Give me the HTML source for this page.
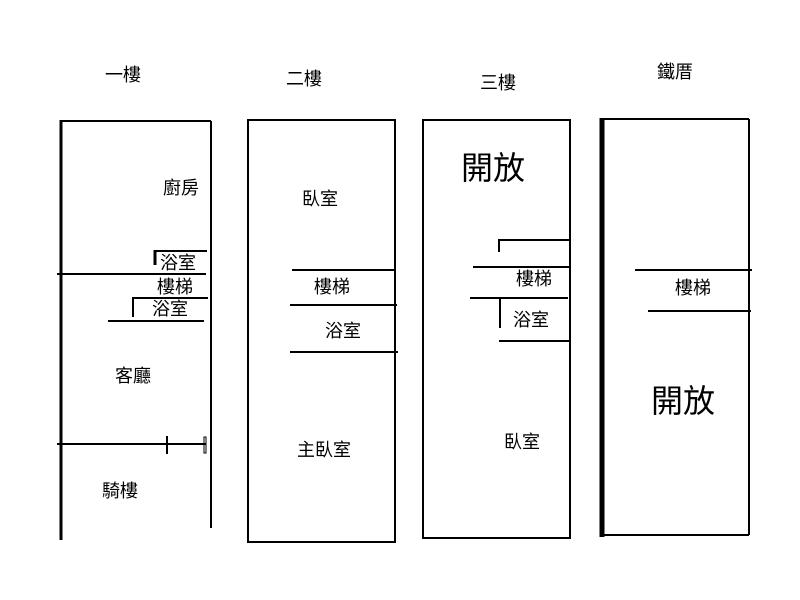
<!DOCTYPE html>
<html><head><meta charset="utf-8"><style>
body{margin:0;background:#fff}
svg{display:block}
text{font-family:"Liberation Sans","Noto Sans CJK TC",sans-serif;fill:#000;text-anchor:middle;dominant-baseline:central}
</style></head><body>
<svg width="800" height="600" viewBox="0 0 800 600" stroke="#000" fill="none" stroke-width="2">
<g stroke="none" font-size="18">
<text x="123" y="75">一樓</text>
<text x="304" y="79">二樓</text>
<text x="498" y="83">三樓</text>
<text x="675" y="72">鐵厝</text>
</g>
<line x1="61" y1="120" x2="61" y2="540" stroke-width="3"/>
<line x1="60" y1="121" x2="211" y2="121"/>
<line x1="211" y1="121" x2="211" y2="528"/>
<line x1="154" y1="251" x2="207" y2="251"/>
<line x1="155" y1="250" x2="155" y2="265" stroke-width="3"/>
<line x1="57" y1="274" x2="206" y2="274"/>
<line x1="133" y1="298" x2="208" y2="298"/>
<line x1="133" y1="297" x2="133" y2="317"/>
<line x1="108" y1="321" x2="204" y2="321"/>
<line x1="57" y1="444" x2="206" y2="444"/>
<line x1="167" y1="436" x2="167" y2="454"/>
<rect x="204" y="437" width="2" height="16" stroke-width="1"/>
<g stroke="none" font-size="18">
<text x="181" y="188">廚房</text>
<text x="178" y="263">浴室</text>
<text x="175" y="287">樓梯</text>
<text x="170" y="309">浴室</text>
<text x="133" y="376">客廳</text>
<text x="120" y="491">騎樓</text>
</g>
<rect x="248" y="120" width="147" height="422"/>
<line x1="292" y1="270" x2="394" y2="270"/>
<line x1="290" y1="305" x2="397" y2="305"/>
<line x1="290" y1="352" x2="398" y2="352"/>
<g stroke="none" font-size="18">
<text x="320" y="199">臥室</text>
<text x="332" y="287">樓梯</text>
<text x="343" y="331">浴室</text>
<text x="324" y="450">主臥室</text>
</g>
<rect x="423" y="120" width="147" height="418"/>
<line x1="499" y1="240" x2="570" y2="240"/>
<line x1="499" y1="239" x2="499" y2="252"/>
<line x1="473" y1="267" x2="570" y2="267"/>
<line x1="470" y1="298" x2="568" y2="298"/>
<line x1="500" y1="298" x2="500" y2="328"/>
<line x1="499" y1="341" x2="570" y2="341"/>
<g stroke="none">
<text x="493" y="168" font-size="32">開放</text>
<text x="534" y="279" font-size="18">樓梯</text>
<text x="531" y="320" font-size="18">浴室</text>
<text x="522" y="442" font-size="18">臥室</text>
</g>
<line x1="602" y1="118" x2="602" y2="537" stroke-width="5"/>
<line x1="602" y1="119" x2="749" y2="119"/>
<line x1="749" y1="119" x2="749" y2="535"/>
<line x1="602" y1="535" x2="749" y2="535"/>
<line x1="635" y1="270" x2="752" y2="270"/>
<line x1="648" y1="311" x2="751" y2="311"/>
<g stroke="none">
<text x="693" y="288" font-size="18">樓梯</text>
<text x="683" y="401" font-size="32">開放</text>
</g>
</svg>
</body></html>
